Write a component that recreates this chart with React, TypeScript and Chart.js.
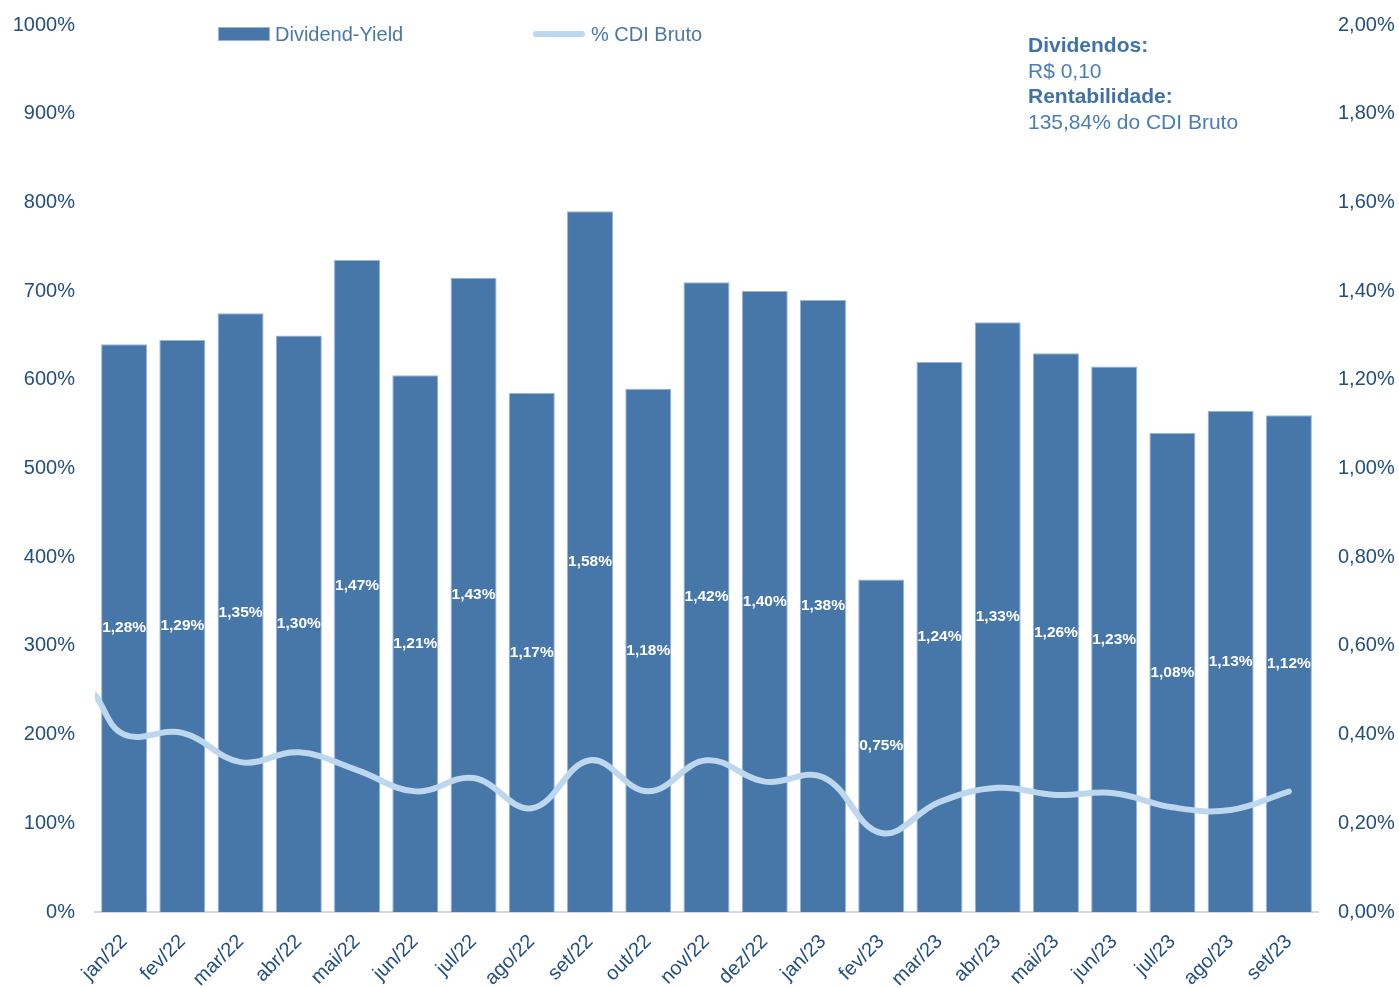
import React, { useEffect, useRef } from "react";
import { Chart, registerables } from "chart.js";

Chart.register(...registerables);

const categories = [
  "jan/22", "fev/22", "mar/22", "abr/22", "mai/22", "jun/22", "jul/22", "ago/22", "set/22", "out/22", "nov/22", "dez/22",
  "jan/23", "fev/23", "mar/23", "abr/23", "mai/23", "jun/23", "jul/23", "ago/23", "set/23",
];

// Dividend-Yield (% a.m.), right axis
const dividendYield = [
  1.28, 1.29, 1.35, 1.3, 1.47, 1.21, 1.43, 1.17, 1.58, 1.18, 1.42, 1.4,
  1.38, 0.75, 1.24, 1.33, 1.26, 1.23, 1.08, 1.13, 1.12,
];

// % CDI Bruto, left axis (one value per month)
const cdiBruto = [
  200, 202, 169, 180, 160, 136, 151, 117, 171, 136, 171, 147,
  152, 89, 124, 140, 132, 134, 118, 115, 135.84,
];

// value where the smoothed line enters the plot at its left edge
const cdiEntry = 245;

const leftTickStep = 100;
const rightTickStep = 0.2;

const BAR_COLOR = "#4677a8";
const BAR_BORDER = "#94b4e2";
const LINE_COLOR = "#bdd7ee";
const TICK_COLOR = "#234f80";
const FONT = '"Liberation Sans", Arial, Helvetica, sans-serif';

const fmtPct = (v: number) => v.toFixed(2).replace(".", ",") + "%";

const barLabels = {
  id: "barLabels",
  afterDatasetsDraw(chart: any) {
    const meta = chart.getDatasetMeta(0);
    const ctx = chart.ctx;
    ctx.save();
    ctx.font = `bold 15.5px ${FONT}`;
    ctx.fillStyle = "#ffffff";
    ctx.textAlign = "center";
    ctx.textBaseline = "middle";
    meta.data.forEach((bar: any, i: number) => {
      const p = bar.getProps(["x", "y", "base"], true);
      ctx.fillText(fmtPct(dividendYield[i]), p.x, (p.y + p.base) / 2);
    });
    ctx.restore();
  },
};

export default function App() {
  const canvasRef = useRef<HTMLCanvasElement | null>(null);

  useEffect(() => {
    const canvas = canvasRef.current;
    if (!canvas) return;
    const barData = dividendYield.map((v, i) => ({ x: i, y: v }));
    const lineData = [{ x: -0.5, y: cdiEntry }, ...cdiBruto.map((v, i) => ({ x: i, y: v }))];
    const chart = new Chart(canvas, {
      type: "bar",
      data: {
        datasets: [
          {
            type: "bar",
            label: "Dividend-Yield",
            data: barData,
            yAxisID: "y1",
            xAxisID: "x",
            backgroundColor: BAR_COLOR,
            borderColor: BAR_BORDER,
            borderWidth: 1,
            categoryPercentage: 1,
            barPercentage: 0.79,
            grouped: false,
            order: 2,
          } as any,
          {
            type: "line",
            label: "% CDI Bruto",
            data: lineData,
            yAxisID: "y",
            xAxisID: "x",
            borderColor: LINE_COLOR,
            backgroundColor: LINE_COLOR,
            borderWidth: 6,
            borderCapStyle: "round",
            pointRadius: 0,
            tension: 0.4,
            cubicInterpolationMode: "default",
            order: 1,
          } as any,
        ],
      },
      options: {
        responsive: true,
        maintainAspectRatio: false,
        animation: false,
        parsing: false as any,
        layout: { padding: { top: 25, left: 0, right: 0, bottom: 0 } },
        plugins: {
          legend: { display: false },
          tooltip: { enabled: false },
        },
        scales: {
          x: {
            type: "linear",
            offset: false,
            min: -0.5,
            max: 20.5,
            grid: { display: false, drawTicks: false },
            border: { display: true, color: "#d9d9d9", width: 2 },
            afterBuildTicks: (s: any) => {
              s.ticks = categories.map((_, i) => ({ value: i }));
            },
            ticks: {
              color: TICK_COLOR,
              font: { family: FONT, size: 20 },
              minRotation: 45,
              maxRotation: 45,
              autoSkip: false,
              padding: 18,
              callback: (v: any) => categories[Math.round(Number(v))] ?? "",
            },
            afterFit: (s: any) => {
              s.height = 76;
            },
          },
          y: {
            position: "left",
            min: 0,
            max: 1000,
            grid: { display: false, drawTicks: true, tickLength: 20 },
            border: { display: false },
            ticks: {
              stepSize: leftTickStep,
              color: TICK_COLOR,
              font: { family: FONT, size: 20 },
              padding: 0,
              callback: (v: any) => `${v}%`,
            },
            afterFit: (s: any) => {
              s.width = 95;
            },
          },
          y1: {
            position: "right",
            min: 0,
            max: 2,
            grid: { display: false, drawTicks: true, tickLength: 20 },
            border: { display: false },
            ticks: {
              stepSize: rightTickStep,
              color: TICK_COLOR,
              font: { family: FONT, size: 20 },
              padding: 0,
              callback: (v: any) => fmtPct(Number(v)),
            },
            afterFit: (s: any) => {
              s.width = 81;
            },
          },
        },
      },
      plugins: [barLabels],
    });
    return () => chart.destroy();
  }, []);

  const legendText: React.CSSProperties = {
    position: "absolute",
    fontFamily: FONT,
    fontSize: 20,
    color: "#4a78a8",
    lineHeight: "24px",
    top: 22,
    whiteSpace: "nowrap",
  };
  const noteLine = (bold: boolean): React.CSSProperties => ({
    fontFamily: FONT,
    fontSize: 21,
    lineHeight: "25.7px",
    fontWeight: bold ? "bold" : "normal",
    color: bold ? "#3f72a8" : "#4a7db5",
    whiteSpace: "nowrap",
  });

  return (
    <div style={{ position: "absolute", left: 0, top: 0, width: 1399, height: 988, background: "#fff" }}>
      <canvas ref={canvasRef} style={{ display: "block" }} />
      <div
        style={{
          position: "absolute",
          left: 218,
          top: 27,
          width: 52,
          height: 14,
          background: BAR_COLOR,
          boxSizing: "border-box",
          border: `1px solid ${BAR_BORDER}`,
        }}
      />
      <div style={{ ...legendText, left: 275 }}>Dividend-Yield</div>
      <div
        style={{
          position: "absolute",
          left: 533,
          top: 31,
          width: 52,
          height: 6,
          borderRadius: 3,
          background: LINE_COLOR,
        }}
      />
      <div style={{ ...legendText, left: 591 }}>% CDI Bruto</div>
      <div style={{ position: "absolute", left: 1028, top: 32 }}>
        <div style={noteLine(true)}>Dividendos:</div>
        <div style={noteLine(false)}>R$ 0,10</div>
        <div style={noteLine(true)}>Rentabilidade:</div>
        <div style={noteLine(false)}>135,84% do CDI Bruto</div>
      </div>
    </div>
  );
}
